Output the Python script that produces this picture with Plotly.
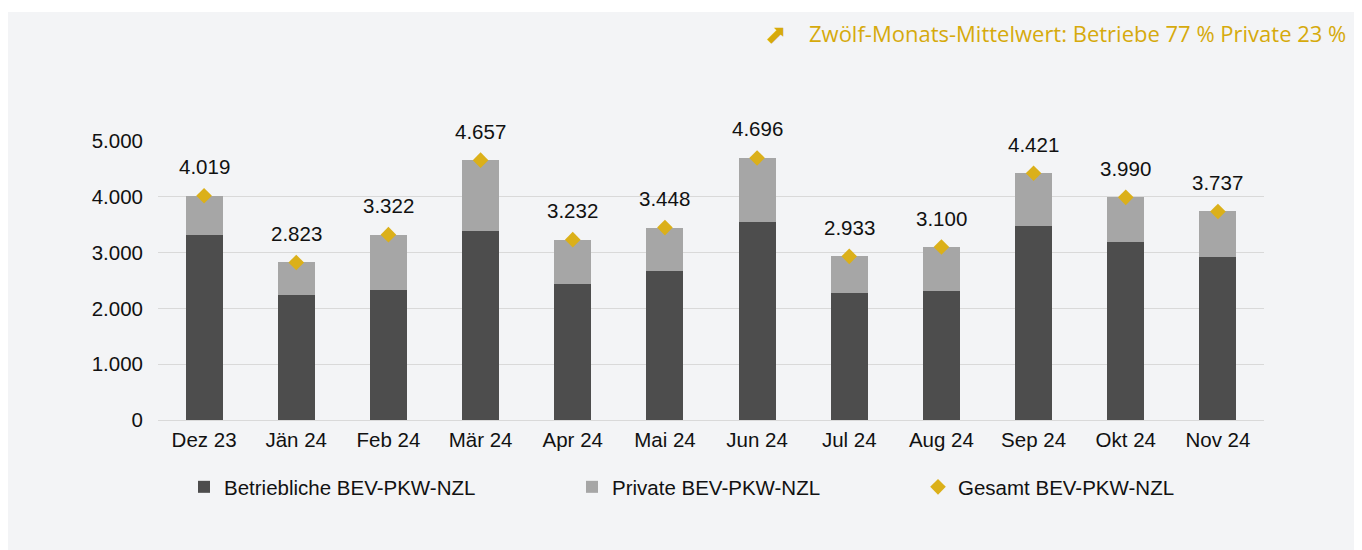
import plotly.graph_objects as go

months = ["Dez 23", "Jän 24", "Feb 24", "Mär 24", "Apr 24", "Mai 24",
          "Jun 24", "Jul 24", "Aug 24", "Sep 24", "Okt 24", "Nov 24"]
betrieblich = [3315, 2240, 2330, 3387, 2443, 2670, 3548, 2276, 2306, 3477, 3190, 2921]
gesamt = [4019, 2823, 3322, 4657, 3232, 3448, 4696, 2933, 3100, 4421, 3990, 3737]
privat = [g - b for g, b in zip(gesamt, betrieblich)]
y_ticks = [0, 1000, 2000, 3000, 4000, 5000]
header = "Zwölf-Monats-Mittelwert: Betriebe 77 % Private 23 %"

# page offset of the plot div (default body margin)
OX, OY = 8, 8
W, H = 1362 - OX, 550 - OY
# plot area in page coordinates
PX0, PX1, PY0, PY1 = 158, 1264, 141, 420
L, R, T, B = PX0 - OX, (W + OX) - PX1, PY0 - OY, (H + OY) - PY1
pw, ph = PX1 - PX0, PY1 - PY0


def px(x):  # page x -> paper fraction
    return (x - PX0) / pw


def py(y):  # page y -> paper fraction
    return (PY1 - y) / ph


FONT = "Liberation Sans, Arial, sans-serif"
FS = 20.5
GOLD = "#D6AA0C"
DIAMOND = "#DBB01A"

fig = go.Figure()
fig.add_trace(go.Bar(x=months, y=betrieblich, name="Betriebliche BEV-PKW-NZL",
                     marker=dict(color="#4D4D4D", line=dict(width=0)), legend="legend"))
fig.add_trace(go.Bar(x=months, y=privat, name="Private BEV-PKW-NZL",
                     marker=dict(color="#A6A6A6", line=dict(width=0)), legend="legend2"))
fig.add_trace(go.Scatter(x=months, y=gesamt, name="Gesamt BEV-PKW-NZL", mode="markers",
                         marker=dict(symbol="diamond", size=12, color=DIAMOND),
                         cliponaxis=False, legend="legend3"))

for m, v in zip(months, gesamt):
    fig.add_annotation(x=m, y=v, text=f"{v:,}".replace(",", "."), showarrow=False,
                       yshift=29, yanchor="middle", xanchor="center",
                       font=dict(family=FONT, size=FS, color="#111111"))

# header annotation
fig.add_annotation(xref="paper", yref="paper", x=px(1348), y=py(33),
                   text=header, showarrow=False, xanchor="right", yanchor="middle",
                   font=dict(family="Open Sans, sans-serif", size=22, color=GOLD))
fig.add_annotation(xref="paper", yref="paper", x=px(776), y=py(34),
                   text="⬈", showarrow=False, xanchor="center", yanchor="middle",
                   font=dict(family="DejaVu Sans, sans-serif", size=26, color=GOLD))

# background panel
fig.add_shape(type="rect", xref="paper", yref="paper", layer="below",
              x0=px(7), x1=px(1370), y0=py(560), y1=py(12),
              fillcolor="#F3F4F6", line=dict(width=0))

leg_common = dict(orientation="h", xanchor="left", yanchor="middle",
                  yref="paper", xref="paper", bgcolor="rgba(0,0,0,0)",
                  font=dict(family=FONT, size=FS, color="#111111"),
                  itemwidth=30, tracegroupgap=0)
legy = py(487)

fig.update_layout(
    width=W, height=H,
    margin=dict(l=L, r=R, t=T, b=B, autoexpand=False),
    paper_bgcolor="white", plot_bgcolor="rgba(0,0,0,0)",
    barmode="stack", bargap=0.6,
    separators=",.",
    showlegend=True,
    legend=dict(x=px(224 - 40), y=legy, **leg_common),
    legend2=dict(x=px(612 - 40), y=legy, **leg_common),
    legend3=dict(x=px(958 - 40), y=legy, **leg_common),
    xaxis=dict(range=[-0.5, len(months) - 0.5],
               showgrid=False, showline=False, ticks="", zeroline=False,
               automargin=False,
               tickfont=dict(family=FONT, size=FS, color="#111111"),
               ticklabelstandoff=5),
    yaxis=dict(range=[0, 5000], tickvals=y_ticks, tickformat=",d",
               showgrid=True, gridcolor="#D9D9D9", gridwidth=1,
               zeroline=True, zerolinecolor="#D9D9D9", zerolinewidth=1,
               showline=False, ticks="", automargin=False,
               tickfont=dict(family=FONT, size=FS, color="#111111"),
               ticklabelstandoff=14),
)

fig.write_html("out.html")
